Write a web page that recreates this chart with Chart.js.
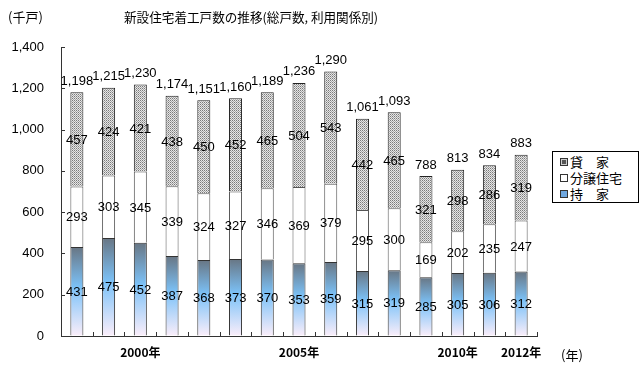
<!DOCTYPE html>
<html><head><meta charset="utf-8">
<script src="https://cdn.jsdelivr.net/npm/chart.js@4.4.1/dist/chart.umd.min.js"></script>
<style>
html,body{margin:0;padding:0;background:#fff;}
#wrap{position:relative;width:640px;height:369px;overflow:hidden;}
canvas{position:absolute;left:0;top:0;}
.t{position:absolute;font-family:"Noto Sans CJK JP";font-size:13px;color:#000;white-space:nowrap;line-height:16px;}
#legend{position:absolute;left:552px;top:151px;width:85px;height:50px;border:1px solid #000;background:#fff;font-family:"Noto Sans CJK JP";font-size:13px;}
#legend .row{position:absolute;left:7px;height:16px;line-height:16px;}
#legend .mk{display:inline-block;width:6px;height:6px;border:1px solid #333;vertical-align:middle;margin-right:2px;position:relative;top:-1px;}
</style></head><body>
<div id="wrap">
<canvas id="c" width="640" height="369"></canvas>
<div class="t" style="left:8px;top:9px">(千戸)</div>
<div class="t" style="left:124px;top:9px;font-size:12.6px">新設住宅着工戸数の推移(総戸数, 利用関係別)</div>
<div class="t" style="left:561px;top:347px">(年)</div>
<div id="legend">
  <div class="row" style="top:2px"><span class="mk" style="background:#555;box-shadow:inset 0 0 0 1px #ccc"></span>貸　家</div>
  <div class="row" style="top:18px"><span class="mk" style="background:#fff"></span>分譲住宅</div>
  <div class="row" style="top:34px"><span class="mk" style="background:#6fa8e0"></span>持　家</div>
</div>
</div>
<script>
const years = ['1998','1999','2000','2001','2002','2003','2004','2005','2006','2007','2008','2009','2010','2011','2012'];
const tickLabels = ['','','2000年','','','','','2005年','','','','','2010年','','2012年'];
const ownedHouses = [431,475,452,387,368,373,370,353,359,315,319,285,305,306,312];
const forSale = [293,303,345,339,324,327,346,369,379,295,300,169,202,235,247];
const rental = [457,424,421,438,450,452,465,504,543,442,465,321,298,286,319];
const totals = [1198,1215,1230,1174,1151,1160,1189,1236,1290,1061,1093,788,813,834,883];
const yTicks = [0,200,400,600,800,1000,1200,1400];

function makePattern(){
  const c=document.createElement('canvas'); c.width=2; c.height=2;
  const g=c.getContext('2d');
  g.fillStyle='#e6e6e6'; g.fillRect(0,0,2,2);
  g.fillStyle='#7a7a7a'; g.fillRect(0,0,1,1);
  g.fillStyle='#a8a8a8'; g.fillRect(1,1,1,1);
  return document.getElementById('c').getContext('2d').createPattern(c,'repeat');
}
const pattern = makePattern();

function ownedGradient(ctx){
  const chart=ctx.chart, ys=chart.scales.y;
  if(!ys || ctx.type!=='data') return '#7cc0f6';
  const top=ys.getPixelForValue(ctx.raw), base=ys.getPixelForValue(0);
  if(!isFinite(top)||!isFinite(base)||top===base) return '#7cc0f6';
  const g=chart.ctx.createLinearGradient(0,top,0,base);
  g.addColorStop(0,'#687684');
  g.addColorStop(0.45,'#7cc2f8');
  g.addColorStop(1,'#fbeefa');
  return g;
}

const labelPlugin={
  id:'labels',
  afterDatasetsDraw(chart){
    const ctx=chart.ctx;
    ctx.save();
    ctx.font='13px "Liberation Sans"';
    ctx.fillStyle='#000';
    ctx.textAlign='center';
    ctx.textBaseline='middle';
    chart.data.datasets.forEach((ds,di)=>{
      const meta=chart.getDatasetMeta(di);
      meta.data.forEach((el,i)=>{
        ctx.fillText(String(ds.data[i]), el.x, (el.y+el.base)/2+1);
      });
    });
    const topMeta=chart.getDatasetMeta(chart.data.datasets.length-1);
    topMeta.data.forEach((el,i)=>{
      ctx.fillText(totals[i].toLocaleString('en-US'), el.x, el.y-11);
    });
    // inner tick marks
    const xs=chart.scales.x, ys=chart.scales.y;
    ctx.strokeStyle='#333'; ctx.lineWidth=1;
    const n=years.length, w=(xs.right-xs.left)/n;
    ctx.beginPath();
    for(let i=1;i<=n;i++){
      const x=Math.round(xs.left+i*w)+0.5;
      ctx.moveTo(x,ys.bottom); ctx.lineTo(x,ys.bottom-4);
    }
    yTicks.forEach(v=>{
      const y=Math.round(ys.getPixelForValue(v))+0.5;
      ctx.moveTo(xs.left,y); ctx.lineTo(xs.left+4,y);
    });
    ctx.stroke();
    ctx.restore();
  }
};

new Chart(document.getElementById('c'),{
  type:'bar',
  data:{
    labels:years,
    datasets:[
      {label:'持　家',data:ownedHouses,backgroundColor:ownedGradient,borderColor:'#333',borderWidth:1,barPercentage:0.41,categoryPercentage:1},
      {label:'分譲住宅',data:forSale,backgroundColor:'#ffffff',borderColor:'#555',borderWidth:1,barPercentage:0.41,categoryPercentage:1},
      {label:'貸　家',data:rental,backgroundColor:pattern,borderColor:'#222',borderWidth:1,barPercentage:0.41,categoryPercentage:1}
    ]
  },
  options:{
    responsive:false,
    animation:false,
    layout:{padding:{left:12,top:47,right:103,bottom:0}},
    plugins:{legend:{display:false},title:{display:false},tooltip:{enabled:false}},
    scales:{
      x:{
        stacked:true,
        grid:{display:true,drawOnChartArea:false,drawTicks:false},
        border:{color:'#333',width:1},
        ticks:{autoSkip:false,maxRotation:0,minRotation:0,padding:9,color:'#000',
          font:{family:'"Noto Sans CJK JP"',size:12,weight:'bold'},
          callback:(v,i)=>tickLabels[i]},
        afterFit:s=>{s.height=33;}
      },
      y:{
        stacked:true,min:0,max:1400,
        grid:{display:true,drawOnChartArea:false,drawTicks:false},
        border:{color:'#333',width:1},
        ticks:{stepSize:200,padding:17,color:'#000',
          font:{family:'"Liberation Sans"',size:13},
          callback:v=>Number(v).toLocaleString('en-US')},
        afterFit:s=>{s.width=49;}
      }
    }
  },
  plugins:[labelPlugin]
});
</script>
</body></html>
